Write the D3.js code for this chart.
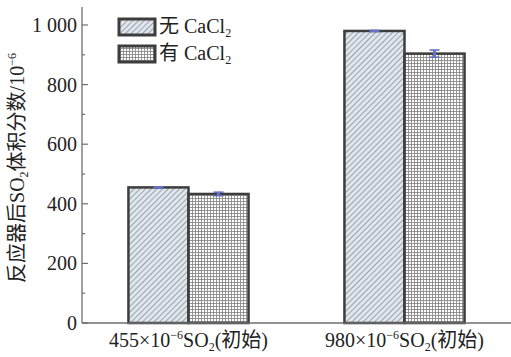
<!DOCTYPE html>
<html>
<head>
<meta charset="utf-8">
<script src="https://cdn.jsdelivr.net/npm/d3@7"></script>
<style>
  body { margin: 0; background: #fff; }
  text { font-family: "Liberation Serif", "Noto Sans CJK SC", serif; fill: #222; }
</style>
</head>
<body>
<div id="chart"></div>
<script>
// data
const groups = ['455', '980'];
const series = ['无', '有'];
const values = [
  [455, 433],
  [980, 904]
];
const errors = [
  [2, 6],
  [2, 12]
];
const majorTicks = [0, 200, 400, 600, 800, 1000];
const minorTicks = [100, 300, 500, 700, 900];

const W = 511, H = 357;
const margin = {left: 82, right: 0, top: 7, bottom: 34};

const svg = d3.select('#chart').append('svg')
  .attr('width', W)
  .attr('height', H);

// patterns
const defs = svg.append('defs');
const hatch = defs.append('pattern')
  .attr('id', 'hatch')
  .attr('patternUnits', 'userSpaceOnUse')
  .attr('width', 4)
  .attr('height', 4)
  .attr('patternTransform', 'rotate(45)');
hatch.append('rect').attr('width', 4).attr('height', 4).attr('fill', '#dfe6ed');
hatch.append('line')
  .attr('x1', 0).attr('y1', 0).attr('x2', 0).attr('y2', 4)
  .attr('stroke', '#8d9299').attr('stroke-width', 1.6);

const grid = defs.append('pattern')
  .attr('id', 'grid')
  .attr('patternUnits', 'userSpaceOnUse')
  .attr('width', 3)
  .attr('height', 3);
grid.append('rect').attr('width', 3).attr('height', 3).attr('fill', '#fff');
grid.append('path')
  .attr('d', 'M0.5,0V3M0,0.5H3')
  .attr('stroke', '#8a8a8a').attr('stroke-width', 0.9).attr('fill', 'none');

const fills = ['url(#hatch)', 'url(#grid)'];

const y = d3.scaleLinear()
  .domain([0, 1000])
  .range([323, 25]);

const x0 = d3.scaleBand()
  .domain(groups)
  .range([margin.left, W])
  .paddingInner(0.444)
  .paddingOuter(0.215);

const x1 = d3.scaleBand()
  .domain(series)
  .range([0, x0.bandwidth()]);

// bars
const g = svg.append('g');
groups.forEach(function(grp, gi) {
  series.forEach(function(s, si) {
    const xs = x0(grp) + x1(s);
    g.append('rect')
      .attr('x', xs)
      .attr('y', y(values[gi][si]))
      .attr('width', x1.bandwidth())
      .attr('height', y(0) - y(values[gi][si]))
      .attr('fill', fills[si])
      .attr('stroke', '#3d3d3d')
      .attr('stroke-width', 2.5);
  });
});

// error bars
groups.forEach(function(grp, gi) {
  series.forEach(function(s, si) {
    const cx = x0(grp) + x1(s) + x1.bandwidth() / 2;
    const v = values[gi][si], e = errors[gi][si];
    const eg = g.append('g').attr('stroke', '#6872c4').attr('stroke-width', 1.6);
    eg.append('line').attr('x1', cx).attr('x2', cx).attr('y1', y(v - e)).attr('y2', y(v + e)).attr('stroke-width', 3);
    eg.append('line').attr('x1', cx - 5).attr('x2', cx + 5).attr('y1', y(v - e)).attr('y2', y(v - e));
    eg.append('line').attr('x1', cx - 5).attr('x2', cx + 5).attr('y1', y(v + e)).attr('y2', y(v + e));
  });
});

// y axis
const fmt = function(d) {
  return d3.formatLocale({decimal: '.', thousands: ' ', grouping: [3], currency: ['', '']}).format(',')(d);
};
const yAxis = svg.append('g').attr('transform', 'translate(' + margin.left + ',0)');
yAxis.append('line')
  .attr('x1', 0).attr('x2', 0)
  .attr('y1', margin.top).attr('y2', y(0))
  .attr('stroke', '#6e6e6e').attr('stroke-width', 1.3);
yAxis.selectAll('.major')
  .data(majorTicks)
  .enter()
  .append('line')
  .attr('x1', 0).attr('x2', 6)
  .attr('y1', function(d) { return y(d); })
  .attr('y2', function(d) { return y(d); })
  .attr('stroke', '#6e6e6e').attr('stroke-width', 1.2);
yAxis.selectAll('.minor')
  .data(minorTicks)
  .enter()
  .append('line')
  .attr('x1', 0).attr('x2', 3)
  .attr('y1', function(d) { return y(d); })
  .attr('y2', function(d) { return y(d); })
  .attr('stroke', '#6e6e6e').attr('stroke-width', 1.2);
yAxis.selectAll('text')
  .data(majorTicks)
  .enter()
  .append('text')
  .attr('x', -5)
  .attr('y', function(d) { return y(d); })
  .attr('dy', '0.35em')
  .attr('text-anchor', 'end')
  .attr('font-size', 20)
  .text(fmt);

// x axis
svg.append('line')
  .attr('x1', margin.left).attr('x2', W)
  .attr('y1', y(0)).attr('y2', y(0))
  .attr('stroke', '#6e6e6e').attr('stroke-width', 1.3);

const xl = svg.append('g');
groups.forEach(function(grp) {
  const t = xl.append('text')
    .attr('x', x0(grp) + x0.bandwidth() / 2)
    .attr('y', 347)
    .attr('text-anchor', 'middle')
    .attr('font-size', 20);
  t.append('tspan').text(grp + '×10');
  t.append('tspan').attr('font-size', 12).attr('dy', -8).text('−6');
  t.append('tspan').attr('dy', 8).text('SO');
  t.append('tspan').attr('font-size', 12).attr('dy', 4).text('2');
  t.append('tspan').attr('dy', -4).text('(初始)');
});

// y label
const yl = svg.append('text')
  .attr('transform', 'translate(24,168) rotate(-90)')
  .attr('text-anchor', 'middle')
  .attr('font-size', 20);
yl.append('tspan').text('反应器后SO');
yl.append('tspan').attr('font-size', 12).attr('dy', 4).text('2');
yl.append('tspan').attr('dy', -4).text('体积分数/10');
yl.append('tspan').attr('font-size', 12).attr('dy', -8).text('−6');

// legend
const legend = svg.append('g');
series.forEach(function(s, i) {
  const ly = 19 + i * 27;
  legend.append('rect')
    .attr('x', 119).attr('y', ly)
    .attr('width', 36).attr('height', 16)
    .attr('fill', fills[i])
    .attr('stroke', '#3d3d3d').attr('stroke-width', 3);
  const t = legend.append('text')
    .attr('x', 159).attr('y', ly + 14)
    .attr('font-size', 20);
  t.append('tspan').text(s + ' CaCl');
  t.append('tspan').attr('font-size', 12).attr('dy', 4).text('2');
});
</script>
</body>
</html>
